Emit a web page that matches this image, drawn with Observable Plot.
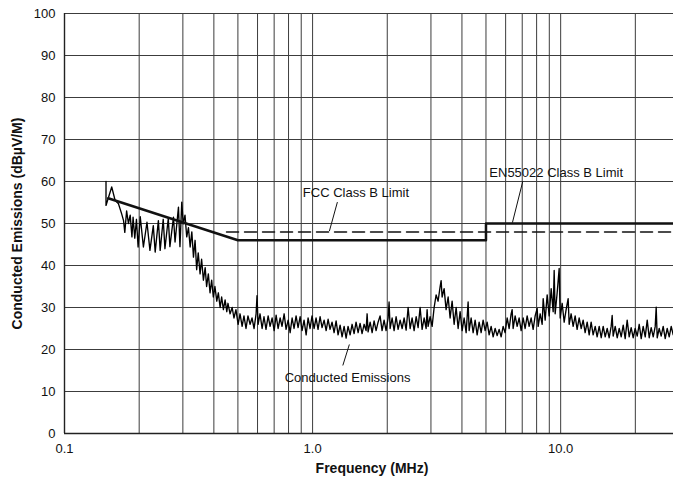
<!DOCTYPE html>
<html><head><meta charset="utf-8">
<script src="https://cdn.jsdelivr.net/npm/d3@7"></script>
<script src="https://cdn.jsdelivr.net/npm/@observablehq/plot@0.6"></script>
<style>
html,body{margin:0;padding:0;background:#fff;}
#chart svg{display:block;}
</style></head><body><div id="chart"></div>
<script>
// Conducted emissions trace: [frequency MHz, level dBµV]
const emissions = [
[0.147,60.0],[0.147,54.3],[0.155,58.7],[0.160,55.5],[0.165,54.7],[0.170,52.3],[0.173,50.7],[0.175,47.9],[0.178,53.0],[0.181,50.0],[0.184,52.0],[0.187,46.8],[0.189,51.5],[0.192,46.5],[0.195,51.0],[0.198,44.4],[0.202,51.6],[0.208,44.4],[0.215,50.3],[0.221,43.6],[0.228,49.5],[0.232,43.2],[0.239,50.7],[0.243,43.6],[0.250,51.0],[0.254,44.0],[0.262,51.2],[0.266,44.5],[0.275,51.5],[0.279,45.6],[0.288,53.9],[0.292,44.5],[0.297,55.1],[0.301,49.9],[0.306,52.0],[0.311,46.8],[0.316,49.0],
[0.321,44.4],[0.326,48.0],[0.331,42.0],[0.336,46.0],[0.341,39.0],[0.346,43.0],[0.352,38.0],[0.357,41.5],[0.363,36.5],[0.369,39.5],[0.374,35.0],[0.380,38.0],[0.386,33.5],[0.392,36.5],[0.398,32.5],[0.404,35.0],[0.411,31.5],[0.417,33.5],[0.424,30.0],[0.430,32.5],[0.437,29.5],[0.444,31.8],[0.451,29.0],
[0.456,31.0],[0.465,28.5],[0.474,30.0],[0.482,27.5],[0.491,29.5],[0.501,26.0],[0.510,28.5],[0.520,25.5],[0.529,28.0],[0.539,25.0],[0.549,28.0],[0.560,26.0],[0.570,27.5],[0.581,25.0],[0.592,28.5],[0.597,32.8],[0.603,26.0],[0.614,28.5],[0.626,25.0],[0.637,27.8],[0.649,24.8],[0.662,28.0],[0.674,25.5],[0.687,27.5],[0.700,24.5],[0.713,28.2],[0.726,25.0],[0.740,27.5],[0.753,25.5],[0.768,28.5],[0.782,24.8],[0.797,27.0],[0.812,24.0],[0.827,27.5],[0.842,25.0],[0.858,28.0],[0.874,25.2],[0.891,27.8],[0.907,24.5],[0.924,27.0],[0.942,23.5],[0.959,27.5],[0.977,25.0],[0.995,28.0],
[1.014,25.0],[1.033,27.5],[1.052,24.8],[1.072,27.8],[1.092,25.2],[1.113,27.0],[1.134,24.5],[1.155,27.2],[1.176,24.8],[1.198,26.5],[1.221,24.0],[1.244,26.8],[1.267,23.5],[1.291,25.8],[1.315,23.0],[1.340,25.5],[1.365,22.7],[1.390,25.5],[1.417,23.5],[1.443,26.0],[1.470,23.8],[1.497,26.5],[1.526,24.0],[1.554,26.2],[1.583,23.8],[1.613,26.0],[1.643,24.5],[1.659,28.5],[1.674,24.2],[1.706,26.5],[1.738,24.0],[1.770,26.8],[1.803,24.5],[1.837,26.5],[1.871,28.0],[1.906,24.5],[1.942,27.0],[1.978,24.5],[2.016,27.5],[2.034,31.3],[2.054,25.0],[2.092,27.5],[2.131,24.5],[2.171,27.8],[2.212,24.8],[2.254,27.0],[2.296,25.0],[2.339,27.5],[2.383,24.6],[2.427,30.0],[2.473,25.0],[2.519,27.5],[2.566,24.5],[2.615,27.8],[2.663,25.2],[2.713,30.0],[2.764,24.8],[2.816,27.5],[2.869,25.0],[2.895,29.5],[2.922,25.5],[2.977,27.8],[3.033,25.5],[3.090,30.0],[3.148,33.0],[3.206,31.5],[3.267,35.0],[3.297,36.4],[3.328,32.5],[3.390,34.5],[3.453,29.5],[3.519,32.5],[3.584,27.5],[3.652,31.5],[3.720,26.0],[3.790,30.0],[3.861,25.0],[3.933,29.0],[4.007,24.5],[4.082,27.5],[4.159,24.0],[4.236,31.3],[4.276,24.5],[4.356,27.5],[4.438,24.0],[4.521,27.0],[4.606,23.5],[4.692,26.5],[4.780,24.0],[4.869,27.0],[4.961,24.5],
[5.054,26.5],[5.149,23.5],[5.245,25.5],[5.344,23.0],[5.444,25.0],[5.546,23.3],[5.649,24.8],[5.755,23.0],[5.863,25.5],[5.973,24.0],[6.085,27.5],[6.199,25.0],[6.315,28.5],[6.374,29.5],[6.433,25.0],[6.554,28.0],[6.677,25.5],[6.802,27.5],[6.929,24.5],[7.059,27.5],[7.192,25.0],[7.327,28.0],[7.464,25.5],[7.604,27.5],[7.746,24.8],[7.892,28.0],[8.039,29.8],[8.115,25.5],[8.268,28.5],[8.423,26.0],[8.501,32.1],[8.660,27.0],[8.823,33.0],[8.988,28.0],[9.157,34.5],[9.328,29.0],[9.415,38.8],[9.502,28.5],[9.681,33.5],[9.862,39.3],[9.954,27.5],[10.14,31.0],[10.33,26.5],[10.52,29.5],[10.72,32.1],[10.82,26.0],[11.02,28.5],[11.23,25.5],[11.44,28.0],[11.65,24.8],[11.87,27.5],[12.10,25.0],[12.32,27.0],[12.55,24.0],[12.79,26.5],[13.03,23.5],[13.27,26.5],[13.52,23.5],[13.78,25.5],[14.03,23.0],[14.30,25.5],[14.57,22.8],[14.84,25.5],[15.12,23.0],[15.40,25.0],[15.69,22.8],[15.98,25.5],[16.13,28.1],[16.28,23.2],[16.59,25.5],[16.90,22.8],[17.22,25.0],[17.54,23.0],[17.87,25.8],[18.20,22.6],[18.54,27.0],[18.89,23.0],[19.24,25.2],[19.60,22.8],[19.97,25.0],[20.35,23.2],[20.73,26.0],[21.12,22.6],[21.51,25.5],[21.92,23.0],[22.33,27.0],[22.75,22.8],[23.17,25.2],[23.61,23.0],[24.05,25.5],[24.27,30.1],[24.50,22.8],[24.96,25.0],[25.42,23.2],[25.90,25.5],[26.39,22.6],[26.88,25.0],[27.39,23.0],[27.90,25.5],[28.42,23.5]
];

// EN55022 Class B limit
const enFreq = [0.15, 0.5, 5, 5, 30];
const enLevel = [56, 46, 46, 50, 50];
// FCC Class B limit
const fccFreq = [0.45, 30];
const fccLevel = [48, 48];

const yTicks = [0, 10, 20, 30, 40, 50, 60, 70, 80, 90, 100];
const xTicks = [0.1, 1, 10];
const xTickLabels = ["0.1", "1.0", "10.0"];
const xGrid = [0.2, 0.3, 0.4, 0.5, 0.6, 0.7, 0.8, 0.9, 1, 2, 3, 4, 5, 6, 7, 8, 9, 10, 20];

const calloutText = ["FCC Class B Limit", "EN55022 Class B Limit", "Conducted Emissions"];
const calloutFreq = [1.495, 9.59, 1.384];
const calloutLevel = [57.3, 62.0, 13.3];
const leaderFreq1 = [1.259, 7.04, 1.324];
const leaderLevel1 = [55.1, 60.1, 16.2];
const leaderFreq2 = [1.169, 6.39, 1.407];
const leaderLevel2 = [48.2, 50.2, 21.2];

const enData = enFreq.map((f, i) => ({f, v: enLevel[i]}));
const fccData = fccFreq.map((f, i) => ({f, v: fccLevel[i]}));
const callouts = calloutText.map((t, i) => ({t, f: calloutFreq[i], v: calloutLevel[i]}));
const leaders = leaderFreq1.map((f, i) => ({x1: f, y1: leaderLevel1[i], x2: leaderFreq2[i], y2: leaderLevel2[i]}));

const gridColor = "#3c3c3c";

const chart = Plot.plot({
  width: 673,
  height: 481,
  marginLeft: 64,
  marginRight: 0,
  marginTop: 13,
  marginBottom: 48,
  style: {fontFamily: "Arial, 'Liberation Sans', Helvetica, sans-serif", fontSize: "13px", background: "#fff", color: "#111"},
  x: {type: "log", domain: [0.1, 28.5]},
  y: {domain: [0, 100]},
  marks: [
    Plot.ruleX(xGrid, {stroke: gridColor, strokeWidth: 1}),
    Plot.ruleY(yTicks.filter(d => d > 0), {stroke: gridColor, strokeWidth: 1}),
    Plot.ruleX([0.1], {stroke: "#222", strokeWidth: 1.4}),
    Plot.ruleY([0], {stroke: "#222", strokeWidth: 1.4}),
    Plot.axisY(yTicks, {tickSize: 0, tickPadding: 9, label: null}),
    Plot.axisX(xTicks, {tickSize: 0, tickPadding: 10, label: null, tickFormat: d => xTickLabels[xTicks.indexOf(d)]}),
    Plot.line(emissions, {x: d => d[0], y: d => d[1], stroke: "#000", strokeWidth: 1.35, clip: true}),
    Plot.line(fccData, {x: "f", y: "v", stroke: "#111", strokeWidth: 1.5, strokeDasharray: "12,6", clip: true}),
    Plot.line(enData, {x: "f", y: "v", stroke: "#111", strokeWidth: 2.5, clip: true}),
    Plot.link(leaders, {x1: "x1", y1: "y1", x2: "x2", y2: "y2", stroke: "#111", strokeWidth: 1, ariaLabel: "leaders"}),
    Plot.text(callouts, {x: "f", y: "v", text: "t", textAnchor: "middle", lineAnchor: "middle", fontSize: 13, fill: "#111", ariaLabel: "callouts"}),
    Plot.text(["Frequency (MHz)"], {frameAnchor: "bottom", textAnchor: "middle", lineAnchor: "middle", dy: 35, dx: 3, fontWeight: "bold", fontSize: 14, fill: "#111"}),
    Plot.text(["Conducted Emissions (dBµV/M)"], {frameAnchor: "left", textAnchor: "middle", lineAnchor: "middle", rotate: -90, dx: -47, fontWeight: "bold", fontSize: 14, fill: "#111"})
  ]
});

document.getElementById("chart").appendChild(chart);

// White boxes behind callout labels (interrupting grid lines, as in the original)
const ns = "http://www.w3.org/2000/svg";
const sb = chart.getBoundingClientRect();
const cg = chart.querySelector('g[aria-label="callouts"]');
const lg = chart.querySelector('g[aria-label="leaders"]');
if (cg && lg) {
  for (const t of cg.querySelectorAll("text")) {
    const b = t.getBoundingClientRect();
    const r = document.createElementNS(ns, "rect");
    r.setAttribute("x", b.left - sb.left - 3);
    r.setAttribute("y", b.top - sb.top - 3);
    r.setAttribute("width", b.width + 6);
    r.setAttribute("height", b.height + 6);
    r.setAttribute("fill", "#fff");
    lg.parentNode.insertBefore(r, lg);
  }
}
</script>
</body></html>
